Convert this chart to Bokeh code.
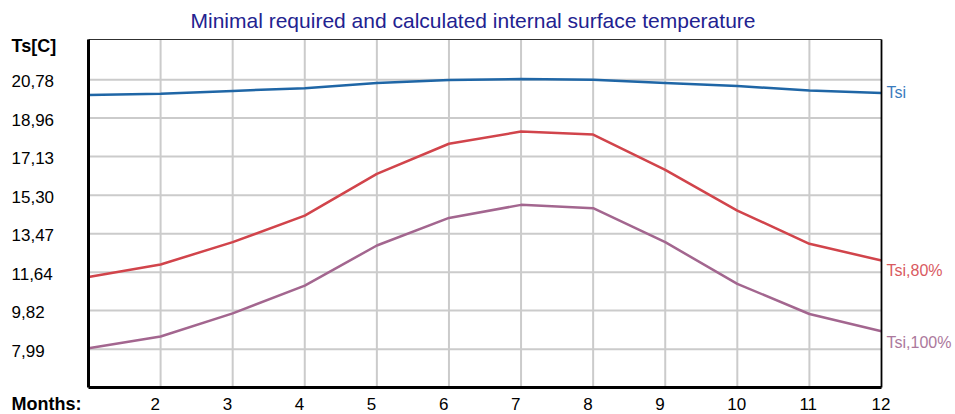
from bokeh.plotting import figure
from bokeh.models import Range1d
from bokeh.core.properties import value
from bokeh.embed import file_html
from bokeh.resources import INLINE

# Monthly internal surface temperatures
months = list(range(1, 13))
tsi = [20.05, 20.12, 20.25, 20.38, 20.62, 20.77, 20.81, 20.78, 20.63, 20.48, 20.27, 20.15]
tsi_80 = [11.42, 12.01, 13.07, 14.33, 16.31, 17.74, 18.32, 18.18, 16.50, 14.57, 12.99, 12.20]
tsi_100 = [8.03, 8.59, 9.69, 11.01, 12.91, 14.22, 14.84, 14.68, 13.07, 11.09, 9.66, 8.84]

series_names = ["Tsi", "Tsi,80%", "Tsi,100%"]
y_ticks = [7.99, 9.82, 11.64, 13.47, 15.30, 17.13, 18.96, 20.78]
y_tick_labels = ["7,99", "9,82", "11,64", "13,47", "15,30", "17,13", "18,96", "20,78"]
x_ticks = list(range(2, 13))
x_tick_labels = [str(m) for m in x_ticks]

# extent of the chart box in data units
X_MIN, X_MAX = 1, 12
Y_MIN, Y_MAX = 6.17, 22.69

# canvas layout (pixels) around the chart box
W, H = 955, 414
BOX_L, BOX_R, BOX_T, BOX_B = 88, 881, 39, 387
px_x = (BOX_R - BOX_L) / (X_MAX - X_MIN)
px_y = (BOX_B - BOX_T) / (Y_MAX - Y_MIN)

FONT = value("Liberation Sans")
line_colors = ["#1f66a6", "#d1444b", "#a3668f"]
label_colors = ["#3a7bbd", "#d95a5f", "#ac789c"]
label_drop = [-1, 10, 11]

p = figure(
    width=W, height=H,
    x_range=Range1d(X_MIN - BOX_L / px_x, X_MAX + (W - BOX_R) / px_x),
    y_range=Range1d(Y_MIN - (H - BOX_B) / px_y, Y_MAX + BOX_T / px_y),
    output_backend="svg", toolbar_location=None, min_border=0,
    background_fill_color="white", border_fill_color="white",
)
p.axis.visible = False
p.grid.visible = False
p.outline_line_color = None

# grid
grid_style = dict(line_color="#cbcbcb", line_width=2)
p.segment(x0=x_ticks[:-1], y0=[Y_MIN] * (len(x_ticks) - 1),
          x1=x_ticks[:-1], y1=[Y_MAX] * (len(x_ticks) - 1), **grid_style)
p.segment(x0=[X_MIN] * len(y_ticks), y0=y_ticks,
          x1=[X_MAX] * len(y_ticks), y1=y_ticks, **grid_style)

# series
for vals, lc in zip([tsi, tsi_80, tsi_100], line_colors):
    p.line(months, vals, line_color=lc, line_width=2.5)

# chart box: light top/right edges, heavy left/bottom axes
p.line([X_MIN, X_MAX], [Y_MAX, Y_MAX], line_color="#303030", line_width=1.2)
p.line([X_MAX, X_MAX], [Y_MIN, Y_MAX], line_color="black", line_width=1.8)
p.line([X_MIN, X_MIN], [Y_MIN, Y_MAX], line_color="black", line_width=3)
p.line([X_MIN, X_MAX], [Y_MIN, Y_MIN], line_color="black", line_width=3)

# title
p.text(x=[(X_MIN + X_MAX) / 2], y=[Y_MAX], text=["Minimal required and calculated internal surface temperature"],
       x_offset=-12, y_offset=-19, text_align="center", text_baseline="alphabetic",
       text_font=FONT, text_font_size="21px", text_color="#222290")

# value axis labels
p.text(x=[X_MIN] * len(y_ticks), y=y_ticks, text=y_tick_labels,
       x_offset=-77, y_offset=1.5, text_align="left", text_baseline="alphabetic",
       text_font=FONT, text_font_size="17px", text_color="black")
p.text(x=[X_MIN], y=[Y_MAX], text=["Ts[C]"], x_offset=-77, y_offset=6,
       text_align="left", text_baseline="alphabetic", text_font=FONT,
       text_font_size="18px", text_font_style="bold", text_color="black")

# month axis labels
p.text(x=x_ticks, y=[Y_MIN] * len(x_ticks), text=x_tick_labels,
       x_offset=-10, y_offset=16, text_align="left", text_baseline="alphabetic",
       text_font=FONT, text_font_size="17px", text_color="black")
p.text(x=[X_MIN], y=[Y_MIN], text=["Months:"], x_offset=-77, y_offset=16,
       text_align="left", text_baseline="alphabetic", text_font=FONT,
       text_font_size="18px", text_font_style="bold", text_color="black")

# series names at the right end of each line
for vals, name, tc, dy in zip([tsi, tsi_80, tsi_100], series_names, label_colors, label_drop):
    p.text(x=[X_MAX], y=[vals[-1]], text=[name], x_offset=5, y_offset=dy,
           text_align="left", text_baseline="alphabetic", text_font=FONT,
           text_font_size="16px", text_color=tc)

open("out.html", "w").write(file_html(p, INLINE))
